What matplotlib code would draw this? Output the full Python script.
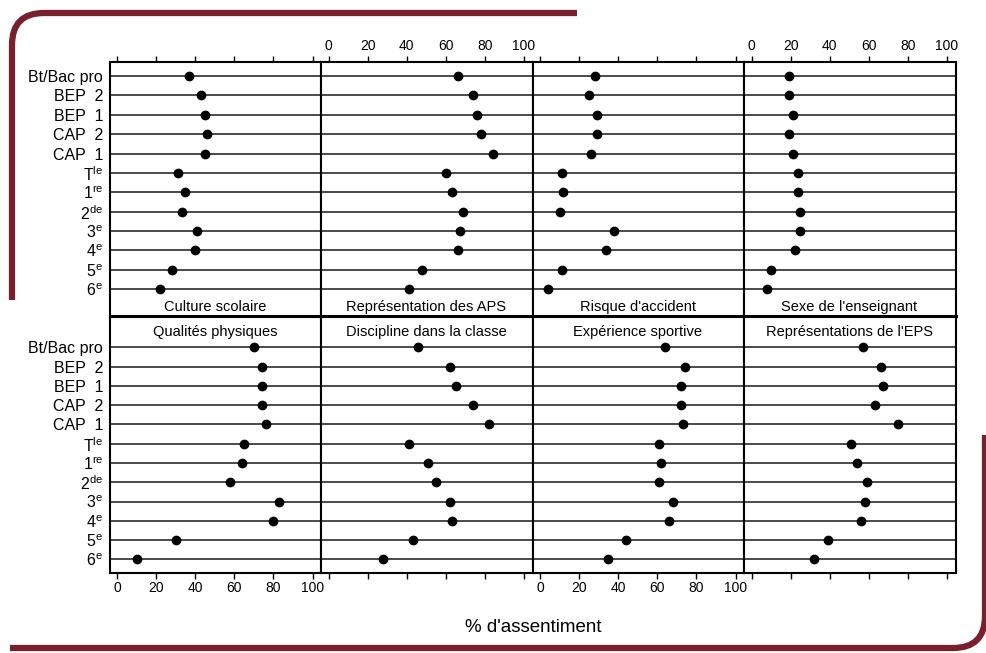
import matplotlib.pyplot as plt
from matplotlib.path import Path
from matplotlib.patches import PathPatch

plt.rcParams['font.family'] = ['Liberation Sans', 'DejaVu Sans']
plt.rcParams['mathtext.fontset'] = 'custom'
plt.rcParams['mathtext.rm'] = 'Liberation Sans'

# categories (top to bottom)
niveaux = ['Bt/Bac pro', 'BEP  2', 'BEP  1', 'CAP  2', 'CAP  1',
           r'T$^{\mathrm{le}}$', r'1$^{\mathrm{re}}$', r'2$^{\mathrm{de}}$',
           r'3$^{\mathrm{e}}$', r'4$^{\mathrm{e}}$', r'5$^{\mathrm{e}}$', r'6$^{\mathrm{e}}$']

# % d'assentiment per panel
culture_scolaire = [37, 43, 45, 46, 45, 31, 35, 33, 41, 40, 28, 22]
representation_aps = [66, 74, 76, 78, 84, 60, 63, 69, 67, 66, 48, 41]
risque_accident = [28, 25, 29, 29, 26, 11, 12, 10, 38, 34, 11, 4]
sexe_enseignant = [19, 19, 21, 19, 21, 24, 24, 25, 25, 22, 10, 8]
qualites_physiques = [70, 74, 74, 74, 76, 65, 64, 58, 83, 80, 30, 10]
discipline_classe = [46, 62, 65, 74, 82, 41, 51, 55, 62, 63, 43, 28]
experience_sportive = [64, 74, 72, 72, 73, 61, 62, 61, 68, 66, 44, 35]
representations_eps = [57, 66, 67, 63, 75, 51, 54, 59, 58, 56, 39, 32]

titres_haut = ['Culture scolaire', 'Représentation des APS',
               "Risque d'accident", "Sexe de l'enseignant"]
titres_bas = ['Qualités physiques', 'Discipline dans la classe',
              'Expérience sportive', "Représentations de l'EPS"]
series_haut = [culture_scolaire, representation_aps, risque_accident, sexe_enseignant]
series_bas = [qualites_physiques, discipline_classe, experience_sportive, representations_eps]

W, H = 987, 653
fig = plt.figure(figsize=(W / 100, H / 100), dpi=100)

ypos = list(range(len(niveaux) - 1, -1, -1))
ticks = [0, 20, 40, 60, 80, 100]

x0 = 110 / W
pw = 211.5 / W


def panel(ax, vals, titre, haut, col):
    for y in ypos:
        ax.axhline(y, color='#2b2b2b', lw=1.2, zorder=1)
    ax.plot(vals, ypos, 'o', color='black', ms=6, zorder=3)
    ax.set_xlim(-3.6, 104.6)
    if haut:
        ax.set_ylim(-1.38, 11.74)
        ax.text(50, -0.92, titre, ha='center', va='center', fontsize=10.5)
        ax.xaxis.tick_top()
        ax.tick_params(axis='x', labeltop=(col % 2 == 1))
        ax.spines['bottom'].set_linewidth(2.2)
    else:
        ax.set_ylim(-0.71, 12.58)
        ax.text(50, 11.82, titre, ha='center', va='center', fontsize=10.5)
        ax.tick_params(axis='x', labelbottom=(col % 2 == 0))
    ax.set_xticks(ticks)
    ax.tick_params(axis='x', direction='out', length=4, width=1, labelsize=10, pad=2)
    ax.set_yticks(ypos)
    if col == 0:
        ax.set_yticklabels(niveaux, fontsize=11.5)
        ax.tick_params(axis='y', length=0, pad=5)
    else:
        ax.set_yticks([])
    for k, s in ax.spines.items():
        if not (haut and k == 'bottom'):
            s.set_linewidth(1.5)


for i in range(4):
    ax = fig.add_axes([x0 + i * pw, 1 - 316 / H, pw, (316 - 61.7) / H])
    panel(ax, series_haut[i], titres_haut[i], True, i)
    ax = fig.add_axes([x0 + i * pw, 1 - 573 / H, pw, (573 - 317) / H])
    panel(ax, series_bas[i], titres_bas[i], False, i)

fig.text(533 / W, 1 - 628 / H, "% d'assentiment", ha='center', va='center', fontsize=13.5)

# decorative maroon frame
def fp(x, y):
    return (x / W, 1 - y / H)

r = 32
cadre_haut = Path([fp(12, 300), fp(12, 13 + r), fp(12, 13), fp(12 + r, 13), fp(577, 13)],
                  [Path.MOVETO, Path.LINETO, Path.CURVE3, Path.CURVE3, Path.LINETO])
cadre_bas = Path([fp(985, 435), fp(985, 648 - r), fp(985, 648), fp(985 - r, 648), fp(10, 648)],
                 [Path.MOVETO, Path.LINETO, Path.CURVE3, Path.CURVE3, Path.LINETO])
for p in (cadre_haut, cadre_bas):
    fig.add_artist(PathPatch(p, transform=fig.transFigure, fill=False,
                             ec='#7a1f2e', lw=4.5, capstyle='butt'))

plt.savefig('out.png', dpi=100)
